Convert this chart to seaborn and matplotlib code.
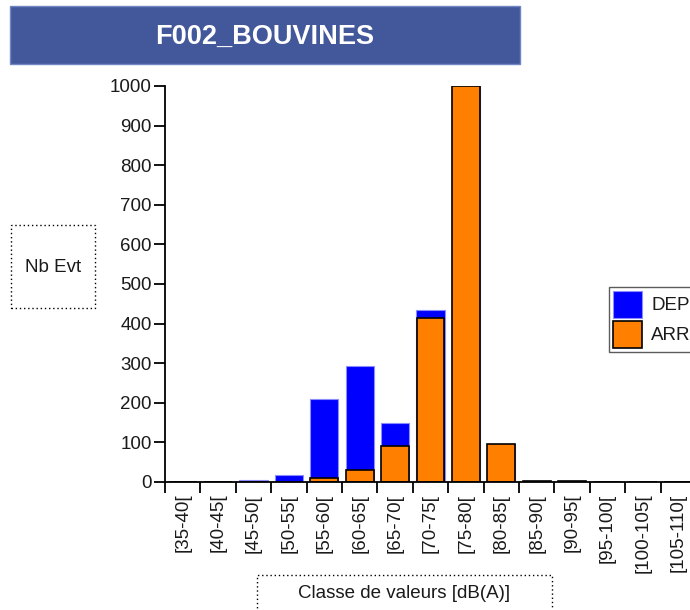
import matplotlib
matplotlib.use("Agg")
import matplotlib.pyplot as plt
import matplotlib.patches as mpatches
import numpy as np
import pandas as pd
import seaborn as sns

# ---- data ----
classes = ["[35-40[", "[40-45[", "[45-50[", "[50-55[", "[55-60[", "[60-65[",
           "[65-70[", "[70-75[", "[75-80[", "[80-85[", "[85-90[", "[90-95[",
           "[95-100[", "[100-105[", "[105-110["]
arr_values = [0, 0, 0, 0, 9, 30, 90, 413, 1000, 96, 2, 2, 0, 0, 0]
dep_values = [0, 0, 6, 17, 200, 262, 59, 21, 0, 0, 0, 0, 0, 0, 0]
yticks = [0, 100, 200, 300, 400, 500, 600, 700, 800, 900, 1000]
title = "F002_BOUVINES"
ylabel = "Nb Evt"
xlabel = "Classe de valeurs [dB(A)]"
series_names = ["DEP", "ARR"]

df = pd.DataFrame({"classe": classes, "ARR": arr_values, "DEP": dep_values})
df["total"] = df["ARR"] + df["DEP"]

sns.set_style("white")
plt.rcParams["font.family"] = ["Liberation Sans", "DejaVu Sans"]
FS = 13.5
TXT = "#1a1a1a"

W, H = 690, 610
fig = plt.figure(figsize=(W / 100, H / 100), dpi=100)
fig.patch.set_facecolor("white")

# axes: left at x=165, bottom y=482, top y=86, category width ~35.4px
ax = fig.add_axes([165 / W, (H - 482) / H, 15 * 35.4 / W, 396 / H])
ax.set_facecolor("white")

blue = "#0000FF"
orange = "#FF8000"
sns.barplot(data=df, x="classe", y="total", order=classes, color=blue,
            saturation=1, width=0.8, edgecolor="#8C8CFF", linewidth=0.8, ax=ax)
sns.barplot(data=df, x="classe", y="ARR", order=classes, color=orange,
            saturation=1, width=0.78, edgecolor="black", linewidth=1.2, ax=ax)

ax.set_xlim(-0.5, len(classes) - 0.5)
ax.set_ylim(0, 1000)
for s in ["top", "right"]:
    ax.spines[s].set_visible(False)
for s in ["left", "bottom"]:
    ax.spines[s].set_color("black")
    ax.spines[s].set_linewidth(1.3)
ax.grid(False)
ax.set_xlabel("")
ax.set_ylabel("")

ax.set_yticks(yticks)
ax.set_yticklabels([str(v) for v in yticks], fontsize=FS, color=TXT)
ax.tick_params(axis="y", direction="out", length=8, width=1.3, pad=1.5,
               color="black", left=True)

# x: boundary ticks (major, no labels) + centered labels (minor, no tick)
ax.set_xticks(np.arange(len(classes)) - 0.5)
ax.set_xticklabels([""] * len(classes))
ax.set_xticks(np.arange(len(classes)), minor=True)
ax.set_xticklabels(classes, minor=True, rotation=90, fontsize=FS, va="top",
                   color=TXT)
ax.tick_params(axis="x", which="major", direction="out", length=8, width=1.3,
               color="black", bottom=True)
ax.tick_params(axis="x", which="minor", length=0, pad=8.5, bottom=True)

# ---- title banner ----
fig.patches.append(mpatches.Rectangle((10 / W, 1 - 64 / H), 510 / W, 58 / H,
                                      transform=fig.transFigure,
                                      facecolor="#43589A", edgecolor="#7286C4",
                                      linewidth=1, zorder=0))
fig.text(265 / W, 1 - 37 / H, title, color="white", fontsize=19.5,
         fontweight="bold", ha="center", va="center")

# ---- y label dotted box ----
fig.patches.append(mpatches.Rectangle((11 / W, 1 - 308 / H), 84 / W, 83 / H,
                                      transform=fig.transFigure,
                                      facecolor="none", edgecolor="black",
                                      linewidth=1, linestyle=(0, (1, 2))))
fig.text(53 / W, 1 - 268 / H, ylabel, fontsize=FS, ha="center", va="center",
         color=TXT)

# ---- x label dotted box ----
fig.patches.append(mpatches.Rectangle((257 / W, 1 - 630 / H), 295 / W, 55 / H,
                                      transform=fig.transFigure,
                                      facecolor="none", edgecolor="black",
                                      linewidth=1, linestyle=(0, (1, 2))))
fig.text(404 / W, 1 - 594 / H, xlabel, fontsize=FS, ha="center", va="center",
         color=TXT)

# ---- legend ----
handles = [mpatches.Patch(facecolor=blue, edgecolor="#8C8CFF", linewidth=0.8),
           mpatches.Patch(facecolor=orange, edgecolor="black", linewidth=1.2)]
leg = fig.legend(handles, series_names, loc="upper left",
                 bbox_to_anchor=(609 / W, 1 - 287 / H),
                 bbox_transform=fig.transFigure, fontsize=FS,
                 handlelength=1.55, handleheight=1.85, handletextpad=0.5,
                 labelspacing=0.15, borderpad=0.2, borderaxespad=0,
                 fancybox=False, shadow=False, frameon=True)
leg.get_frame().set_edgecolor("#333333")
leg.get_frame().set_linewidth(1.0)
for t in leg.get_texts():
    t.set_color(TXT)

fig.savefig("out.png", dpi=100, facecolor="white")
